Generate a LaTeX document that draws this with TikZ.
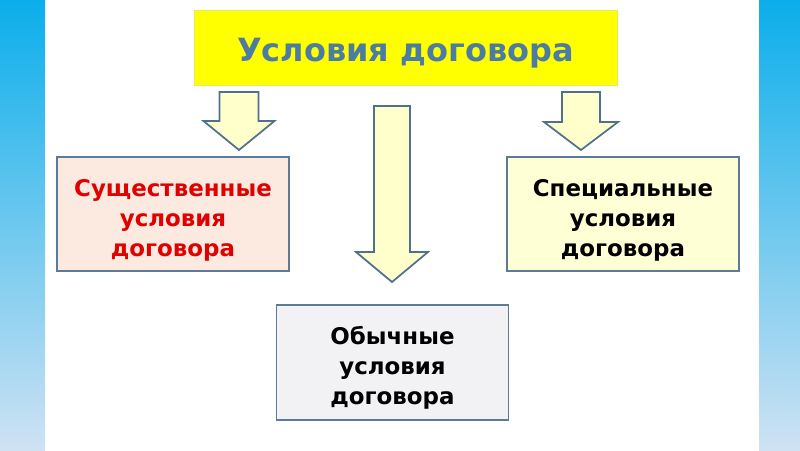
\documentclass[tikz,border=0pt]{standalone}
\usepackage{fontspec}
\setmainfont{DejaVu Sans}
\usepackage{xcolor}
\definecolor{bandtop}{HTML}{0BAEEB}
\definecolor{bandbottom}{HTML}{CFE2F3}
\definecolor{titleyellow}{HTML}{FFFF00}
\definecolor{titleedge}{HTML}{EDE85A}
\definecolor{titleblue}{HTML}{4D7CA2}
\definecolor{edgeblue}{HTML}{5D7B98}
\definecolor{pinkfill}{HTML}{FCE9E0}
\definecolor{creamfill}{HTML}{FFFFD6}
\definecolor{grayfill}{HTML}{F2F2F4}
\definecolor{arrowfill}{HTML}{FFFFCC}
\definecolor{arrowedge}{HTML}{50708F}
\definecolor{keyred}{HTML}{E00000}
\usetikzlibrary{positioning}
% block arrow: centre x, top, head start, tip, half shaft, half head
\newcommand{\blockdown}[6]{%
  \draw[bigarrow] (#1-#5,#2) -- (#1+#5,#2) -- (#1+#5,#3) -- (#1+#6,#3)
    -- (#1,#4) -- (#1-#6,#3) -- (#1-#5,#3) -- cycle;}
% pushes the first line down a little
\newcommand{\topgap}[1]{\rule{0pt}{#1}}

\begin{document}
\begin{tikzpicture}[
  x=0.75pt, y=-0.75pt,
  heading/.style={draw=titleedge, fill=titleyellow, text=titleblue,
                  minimum width=317pt, minimum height=56pt,
                  font=\fontsize{24}{28}\selectfont\bfseries},
  kind/.style={draw=edgeblue, line width=1.3pt, align=center,
               minimum width=174pt, minimum height=85.5pt,
               font=\fontsize{17.2}{22.5}\selectfont\bfseries},
  bigarrow/.style={draw=arrowedge, fill=arrowfill, line width=1.3pt, line join=miter}
]
  \useasboundingbox (0,0) rectangle (800,450);
  \fill[white] (0,0) rectangle (800,450);
  % side bands
  \shade[top color=bandtop, bottom color=bandbottom] (0,0) rectangle (45,450);
  \shade[top color=bandtop, bottom color=bandbottom] (759,0) rectangle (800,450);

  \node[heading] (title) at (405.5,47.5) {\topgap{26pt}Условия договора};

  \node[kind, fill=pinkfill, text=keyred] (essential) at (173,214)
        {\topgap{22pt}Существенные\\условия\\договора};
  \node[kind, fill=creamfill] (special) at (623,214)
        {\topgap{22pt}Специальные\\условия\\договора};
  \node[kind, fill=grayfill, minimum height=86pt] (ordinary) at (392.5,362.5)
        {\topgap{21pt}Обычные\\условия\\договора};

  \blockdown{239}{92}{121}{150}{19.5}{35.5}
  \blockdown{581}{92}{122}{150}{19}{37}
  \blockdown{392}{106}{252}{282}{18}{36}
\end{tikzpicture}
\end{document}
